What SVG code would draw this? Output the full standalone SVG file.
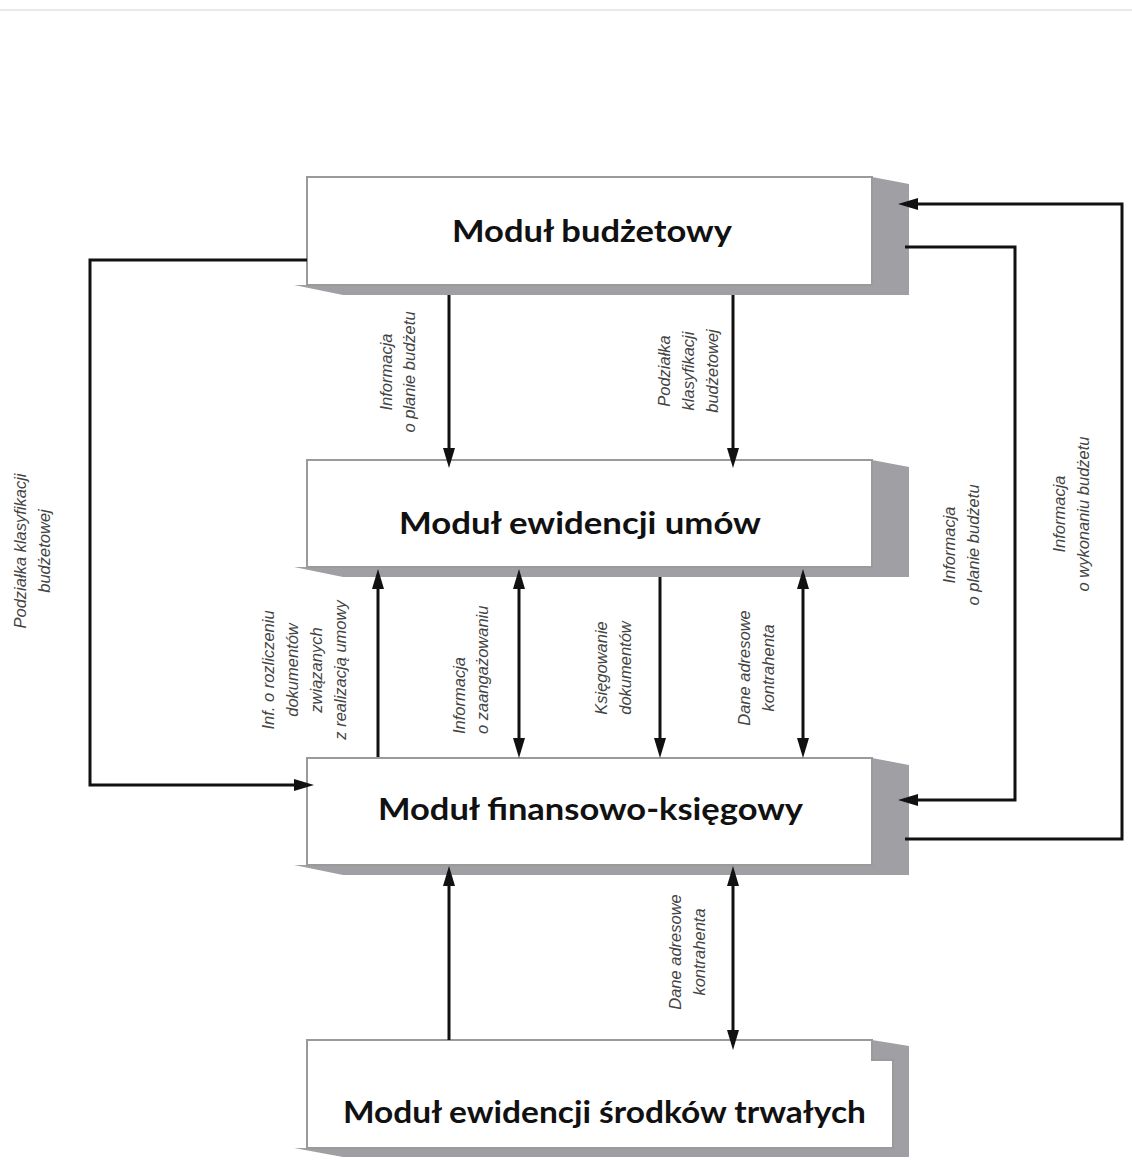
<svg xmlns="http://www.w3.org/2000/svg" width="1132" height="1166" viewBox="0 0 1132 1166">
  <style>
    .front { fill: #ffffff; stroke: #9a9a9a; stroke-width: 2; }
    .shadow { fill: #a0a0a4; stroke: none; }
    .title { font-family: Lato, "Open Sans", "Liberation Sans", sans-serif; font-weight: bold; font-size: 30px; fill: #111; text-anchor: middle; }
    .conn { fill: none; stroke: #111; stroke-width: 3; }
    .lbl { font-family: "Liberation Sans", Arial, sans-serif; font-style: italic; font-size: 16.5px; fill: #444; text-anchor: middle; }
    .lbl-start { text-anchor: start; }
  </style>
  <defs>
    <marker id="arr" markerUnits="userSpaceOnUse" markerWidth="20" markerHeight="12" refX="14" refY="6" orient="auto-start-reverse" viewBox="0 0 20 12">
      <path d="M0,0 L20,6 L0,12 z" fill="#111"/>
    </marker>
  </defs>
  <rect x="0" y="0" width="1132" height="1166" fill="#ffffff"/>
  <line x1="0" y1="10" x2="1132" y2="10" stroke="#e2e2e2" stroke-width="1.5"/>

  <g id="node-budzetowy">
    <polygon class="shadow" points="872,177 909,184 909,295 343,295 294,285 872,285"/>
    <rect class="front" x="307" y="177" width="565" height="108"/>
    <text class="title" x="592" y="242" textLength="280" lengthAdjust="spacingAndGlyphs">Moduł budżetowy</text>
  </g>

  <g id="node-umowy">
    <polygon class="shadow" points="872,460 909,467 909,577 343,577 294,567 872,567"/>
    <rect class="front" x="307" y="460" width="565" height="107"/>
    <text class="title" x="580" y="534" textLength="362" lengthAdjust="spacingAndGlyphs">Moduł ewidencji umów</text>
  </g>

  <g id="node-finansowo">
    <polygon class="shadow" points="872,758 909,765 909,875 343,875 294,865 872,865"/>
    <rect class="front" x="307" y="758" width="565" height="107"/>
    <text class="title" x="590.5" y="820" textLength="425" lengthAdjust="spacingAndGlyphs">Moduł finansowo-księgowy</text>
  </g>

  <g id="node-srodki">
    <polygon class="shadow" points="872,1040 909,1046 909,1157 343,1157 294,1148 872,1148"/>
    <polygon class="front" points="307,1040 872,1040 872,1060 893,1060 893,1148 307,1148"/>
    <text class="title" x="604.5" y="1123" textLength="523" lengthAdjust="spacingAndGlyphs">Moduł ewidencji środków trwałych</text>
  </g>

  <g id="connectors">
    <path class="conn" d="M449,295 V462" marker-end="url(#arr)"/>
    <path class="conn" d="M733,295 V462" marker-end="url(#arr)"/>
    <path class="conn" d="M378,757 V575" marker-end="url(#arr)"/>
    <path class="conn" d="M519,575 V752" marker-start="url(#arr)" marker-end="url(#arr)"/>
    <path class="conn" d="M660,577 V752" marker-end="url(#arr)"/>
    <path class="conn" d="M803,575 V752" marker-start="url(#arr)" marker-end="url(#arr)"/>
    <path class="conn" d="M449,1040 V872" marker-end="url(#arr)"/>
    <path class="conn" d="M733,872 V1044" marker-start="url(#arr)" marker-end="url(#arr)"/>
    <path class="conn" d="M307,260 H90 V785 H308" marker-end="url(#arr)"/>
    <path class="conn" d="M905,247 H1015 V800 H904" marker-end="url(#arr)"/>
    <path class="conn" d="M905,839 H1122 V204 H904" marker-end="url(#arr)"/>
  </g>

  <g id="labels">
    <text class="lbl" transform="translate(0,372) rotate(-90)"><tspan x="0" y="392">Informacja</tspan><tspan x="0" y="415">o planie budżetu</tspan></text>
    <text class="lbl" transform="translate(0,371) rotate(-90)"><tspan x="0" y="670">Podziałka</tspan><tspan x="0" y="694">klasyfikacji</tspan><tspan x="0" y="718">budżetowej</tspan></text>
    <text class="lbl" transform="translate(0,551) rotate(-90)"><tspan x="0" y="26">Podziałka klasyfikacji</tspan><tspan x="0" y="50">budżetowej</tspan></text>
    <text class="lbl" transform="translate(0,670) rotate(-90)"><tspan x="0" y="274">Inf. o rozliczeniu</tspan><tspan x="0" y="298">dokumentów</tspan><tspan x="0" y="322">związanych</tspan><tspan x="0" y="346">z realizacją umowy</tspan></text>
    <text class="lbl lbl-start" transform="translate(0,734) rotate(-90)"><tspan x="0" y="465">Informacja</tspan><tspan x="0" y="488">o zaangażowaniu</tspan></text>
    <text class="lbl" transform="translate(0,668) rotate(-90)"><tspan x="0" y="607">Księgowanie</tspan><tspan x="0" y="631">dokumentów</tspan></text>
    <text class="lbl" transform="translate(0,668) rotate(-90)"><tspan x="0" y="750">Dane adresowe</tspan><tspan x="0" y="774">kontrahenta</tspan></text>
    <text class="lbl" transform="translate(0,545) rotate(-90)"><tspan x="0" y="955">Informacja</tspan><tspan x="0" y="979">o planie budżetu</tspan></text>
    <text class="lbl" transform="translate(0,514) rotate(-90)"><tspan x="0" y="1065">Informacja</tspan><tspan x="0" y="1089">o wykonaniu budżetu</tspan></text>
    <text class="lbl" transform="translate(0,952) rotate(-90)"><tspan x="0" y="681">Dane adresowe</tspan><tspan x="0" y="705">kontrahenta</tspan></text>
  </g>
</svg>
